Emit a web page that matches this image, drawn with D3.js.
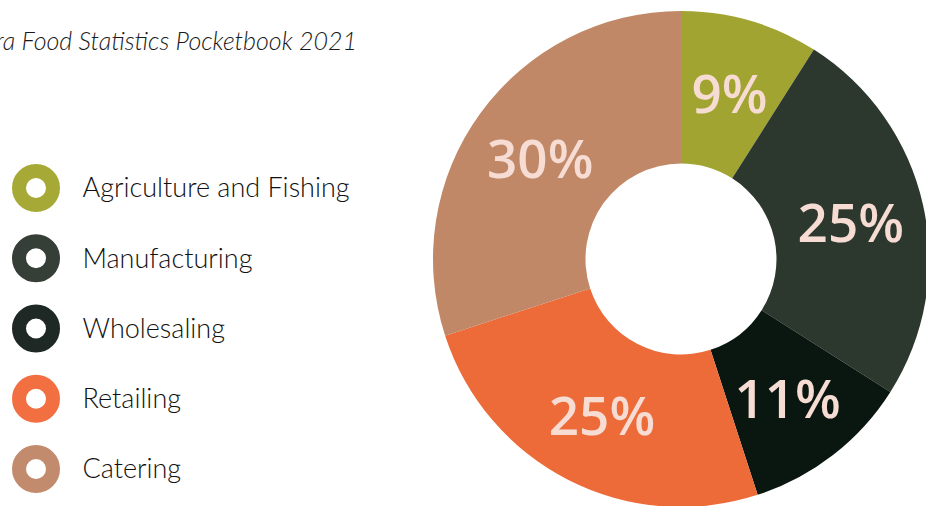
<!DOCTYPE html>
<html>
<head>
<meta charset="utf-8">
<script src="https://cdn.jsdelivr.net/npm/d3@7"></script>
<style>
  html, body { margin: 0; padding: 0; background: #ffffff; overflow: hidden; }
  svg { display: block; }
</style>
</head>
<body>
<svg id="chart" width="926" height="506"></svg>
<script>
const categories = ["Agriculture and Fishing", "Manufacturing", "Wholesaling", "Retailing", "Catering"];
const values = [9, 25, 11, 25, 30];
const sliceColors = ["#A1A431", "#2C372D", "#0A1711", "#EC6B39", "#C08867"];
const legendColors = ["#A6A936", "#363F37", "#1E2825", "#F26F42", "#C28B6E"];
const subtitle = "Source: Defra Food Statistics Pocketbook 2021";

const svg = d3.select("#chart");

// Subtitle (cropped at the left edge as in the reference)
svg.append("text")
  .attr("x", 357).attr("y", 50)
  .attr("text-anchor", "end")
  .attr("font-family", "Lato, 'Open Sans', sans-serif")
  .attr("font-style", "italic")
  .attr("font-weight", 300)
  .attr("font-size", 25)
  .attr("fill", "#1a1a1a")
  .text(subtitle);

// Donut
const cx = 681, cy = 259, rOuter = 248, rInner = 95.5;
const pie = d3.pie().sort(null).value(d => d);
const arcs = pie(values);
const arc = d3.arc().innerRadius(rInner).outerRadius(rOuter);
const labelArc = d3.arc().innerRadius(174).outerRadius(174);

const g = svg.append("g").attr("transform", `translate(${cx},${cy})`);
g.selectAll("path.slice")
  .data(arcs)
  .join("path")
  .attr("class", "slice")
  .attr("d", arc)
  .attr("fill", (d, i) => sliceColors[i]);

g.selectAll("text.pct")
  .data(arcs)
  .join("text")
  .attr("class", "pct")
  .attr("transform", d => `translate(${labelArc.centroid(d)})`)
  .attr("text-anchor", "middle")
  .attr("dy", "0.4em")
  .attr("font-family", "'Open Sans', sans-serif")
  .attr("font-weight", 600)
  .attr("font-size", 53)
  .attr("fill", "#F6DCD3")
  .text(d => d.data + "%");

// Legend
const legendY = d3.scalePoint().domain(categories).range([188, 469]);
const lg = svg.append("g");
const items = lg.selectAll("g.item")
  .data(categories)
  .join("g")
  .attr("class", "item")
  .attr("transform", d => `translate(36,${legendY(d)})`);
items.append("circle")
  .attr("r", 17)
  .attr("fill", "none")
  .attr("stroke", (d, i) => legendColors[i])
  .attr("stroke-width", 14);
items.append("text")
  .attr("x", 46.5)
  .attr("dy", "0.35em")
  .attr("font-family", "Lato, sans-serif")
  .attr("font-weight", 300)
  .attr("font-size", 27)
  .attr("fill", "#111111")
  .text(d => d);
</script>
</body>
</html>
